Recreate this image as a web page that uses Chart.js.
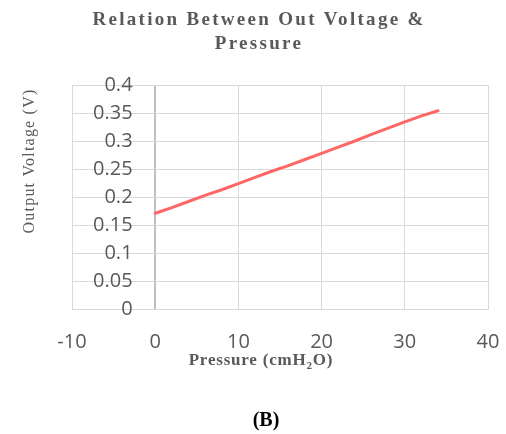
<!DOCTYPE html>
<html>
<head>
<meta charset="utf-8">
<script src="https://cdn.jsdelivr.net/npm/chart.js@4"></script>
<style>
  body { margin: 0; background: #fff; }
  #wrap { width: 506px; height: 434px; }
</style>
</head>
<body>
<div id="wrap"><canvas id="myChart" width="506" height="434"></canvas></div>
<script>
// pressure (cmH2O) and output voltage (V)
const pressure = [0, 2, 4, 6, 8, 10, 12, 14, 16, 18, 20, 22, 24, 26, 28, 30, 32, 34];
const voltage = [0.171, 0.181, 0.192, 0.203, 0.213, 0.224, 0.235, 0.246, 0.256, 0.267, 0.278, 0.289, 0.300, 0.312, 0.323, 0.334, 0.345, 0.354];

const xTicks = [-10, 0, 10, 20, 30, 40];
const yTicks = [0, 0.05, 0.1, 0.15, 0.2, 0.25, 0.3, 0.35, 0.4];

const titleLines = ['Relation Between Out Voltage &', 'Pressure'];
const yTitle = 'Output Voltage (V)';
const caption = '(B)';

const points = pressure.map((p, i) => ({x: p, y: voltage[i]}));

// titles are drawn by hand: letter spacing and the subscript in cmH2O
const textPlugin = {
    id: 'texts',
    afterDraw(chart) {
        const ctx = chart.ctx;
        ctx.save();
        ctx.fillStyle = '#595959';
        ctx.textAlign = 'center';
        ctx.textBaseline = 'middle';

        ctx.font = 'bold 19px "Liberation Serif"';
        ctx.letterSpacing = '2.3px';
        ctx.fillText(titleLines[0], 259, 20);
        ctx.fillText(titleLines[1], 259, 44);

        // y axis title
        ctx.font = '16px "Liberation Serif"';
        ctx.letterSpacing = '1.2px';
        ctx.save();
        ctx.translate(30, 161);
        ctx.rotate(-Math.PI / 2);
        ctx.fillText(yTitle, 0, 0);
        ctx.restore();

        // x axis title with subscript
        ctx.letterSpacing = '0.8px';
        ctx.textAlign = 'left';
        const a = 'Pressure (cmH', sub = '2', b = 'O)';
        const big = 'bold 17px "Liberation Serif"', small = 'bold 11px "Liberation Serif"';
        ctx.font = big;
        const wa = ctx.measureText(a).width, wb = ctx.measureText(b).width;
        ctx.font = small;
        const ws = ctx.measureText(sub).width;
        let x = 261 - (wa + ws + wb) / 2;
        const y = 361;
        ctx.font = big;
        ctx.fillText(a, x, y);
        x += wa;
        ctx.font = small;
        ctx.fillText(sub, x, y + 5);
        x += ws;
        ctx.font = big;
        ctx.fillText(b, x, y);

        // panel label
        ctx.letterSpacing = '0px';
        ctx.textAlign = 'center';
        ctx.fillStyle = '#000';
        ctx.font = 'bold 20px "Liberation Serif"';
        ctx.fillText(caption, 266, 421);
        ctx.restore();
    }
};

const config = {
    type: 'scatter',
    data: {
        datasets: [{
            data: points,
            showLine: true,
            borderColor: '#ff6666',
            backgroundColor: '#ff6666',
            borderWidth: 3,
            borderCapStyle: 'round',
            pointRadius: 0,
            tension: 0,
        }]
    },
    options: {
        responsive: false,
        animation: false,
        layout: {
            padding: {left: 72, right: 18, top: 85, bottom: 0}
        },
        plugins: {
            legend: {display: false},
            title: {display: false},
            tooltip: {enabled: false}
        },
        scales: {
            x: {
                type: 'linear',
                min: xTicks[0],
                max: xTicks[xTicks.length - 1],
                afterBuildTicks: scale => { scale.ticks = xTicks.map(v => ({value: v})); },
                afterFit: scale => {
                    scale.height = 125;
                    scale.paddingLeft = 0;
                    scale.paddingRight = 0;
                },
                grid: {
                    // the value axis crosses at x = 0
                    color: c => c.tick && c.tick.value === 0 ? '#bfbfbf' : '#d9d9d9',
                    lineWidth: c => c.tick && c.tick.value === 0 ? 2 : 1,
                    drawTicks: false
                },
                border: {color: '#d9d9d9'},
                ticks: {
                    padding: 21,
                    color: '#595959',
                    font: {family: '"Open Sans"', size: 20},
                    callback: v => String(v)
                }
            },
            y: {
                type: 'linear',
                position: 'left',
                min: yTicks[0],
                max: yTicks[yTicks.length - 1],
                afterBuildTicks: scale => { scale.ticks = yTicks.map(v => ({value: v})); },
                afterFit: scale => {
                    scale.width = 0;
                    scale.paddingTop = 0;
                    scale.paddingBottom = 0;
                },
                grid: {color: '#d9d9d9', drawTicks: false},
                border: {color: '#d9d9d9'},
                ticks: {
                    mirror: true,
                    crossAlign: 'far',
                    padding: 21,
                    color: '#595959',
                    font: {family: '"Open Sans"', size: 20},
                    callback: v => String(+v.toFixed(2))
                }
            }
        }
    },
    plugins: [textPlugin]
};

const myChart = new Chart(document.getElementById('myChart'), config);
</script>
</body>
</html>
